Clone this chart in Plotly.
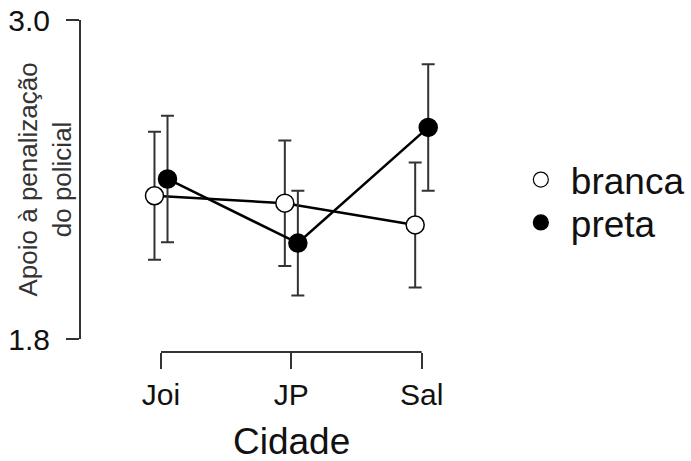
import plotly.graph_objects as go

cidades = ["Joi", "JP", "Sal"]
branca_mean = [2.339, 2.311, 2.229]
branca_err = [0.241, 0.236, 0.235]
preta_mean = [2.402, 2.161, 2.596]
preta_err = [0.238, 0.197, 0.238]
y_ticks = [1.8, 3.0]
y_ticklabels = ["1.8", "3.0"]

pos = [1, 2, 3]
dodge = 0.05
FONT = "Liberation Sans, Arial, sans-serif"

fig = go.Figure()

fig.add_trace(go.Scatter(
    x=[p - dodge for p in pos], y=branca_mean, mode="lines+markers",
    line=dict(color="black", width=2.5),
    marker=dict(symbol="circle", size=18, color="white", line=dict(color="black", width=1.5)),
    error_y=dict(type="data", array=branca_err, visible=True, color="#333333", thickness=2, width=6.5),
    showlegend=False, cliponaxis=False,
))
fig.add_trace(go.Scatter(
    x=[p + dodge for p in pos], y=preta_mean, mode="lines+markers",
    line=dict(color="black", width=2.5),
    marker=dict(symbol="circle", size=18, color="black", line=dict(color="black", width=1.5)),
    error_y=dict(type="data", array=preta_err, visible=True, color="#333333", thickness=2, width=6.5),
    showlegend=False, cliponaxis=False,
))
# legend entries (two separate legends to control spacing)
fig.add_trace(go.Scatter(
    x=[None], y=[None], mode="markers", name="branca", legend="legend",
    marker=dict(symbol="circle", size=15, color="white", line=dict(color="black", width=1.2)),
))
fig.add_trace(go.Scatter(
    x=[None], y=[None], mode="markers", name="preta", legend="legend2",
    marker=dict(symbol="circle", size=15, color="black", line=dict(color="black", width=1.2)),
))

W, H = 691, 461
ml, mr, mt, mb = 81, 221, 19.5, 108.5
plot_h = H - mt - mb
ydom0 = 13.0 / plot_h

fig.add_shape(type="line", xref="x", yref="paper", x0=pos[0], x1=pos[-1], y0=0, y1=0,
              line=dict(color="#333333", width=2))

fig.add_annotation(text="Apoio à penalização<br>do policial", xref="paper", yref="paper",
                   x=0, y=(ydom0 + 1) / 2, xanchor="center", yanchor="middle", xshift=-36,
                   textangle=-90, showarrow=False,
                   font=dict(size=26, family=FONT, color="#333333"))
fig.add_annotation(text="Cidade", xref="x", yref="paper", x=2, y=0,
                   xanchor="center", yanchor="middle", yshift=-89, showarrow=False,
                   font=dict(size=37, family=FONT, color="#111111"))

leg_common = dict(xanchor="left", yanchor="middle",
                  font=dict(size=37, family=FONT, color="#111111"),
                  bgcolor="rgba(0,0,0,0)", itemwidth=50, borderwidth=0)

fig.update_layout(
    width=W, height=H,
    margin=dict(l=ml, r=mr, t=mt, b=mb, pad=0, autoexpand=False),
    paper_bgcolor="white", plot_bgcolor="white",
    font=dict(family=FONT, color="#111111"),
    xaxis=dict(
        range=[0.3863, 3.3706], anchor="free", position=0, automargin=False,
        tickvals=pos, ticktext=cidades, ticks="outside", ticklen=16, tickwidth=2, tickcolor="#333333",
        showline=False, showgrid=False, zeroline=False, ticklabeloverflow="allow",
        tickfont=dict(size=30, family=FONT, color="#111111"),
    ),
    yaxis=dict(
        range=[1.8, 3.0], domain=[ydom0, 1], automargin=False,
        tickvals=y_ticks, ticktext=y_ticklabels, ticks="outside", ticklen=13, tickwidth=2,
        tickcolor="#333333", showline=True, linecolor="#333333", linewidth=2,
        showgrid=False, zeroline=False, ticklabeloverflow="allow",
        tickfont=dict(size=30, family=FONT, color="#111111"),
        ticklabelstandoff=10,
    ),
    legend=dict(x=1.105, y=0.518, **leg_common),
    legend2=dict(x=1.105, y=0.389, **leg_common),
)

# remove the browser's default 8px body margin so the figure fills the window
fig.write_html("out.html", config={"displayModeBar": False},
               post_script="document.body.style.margin='0';")
